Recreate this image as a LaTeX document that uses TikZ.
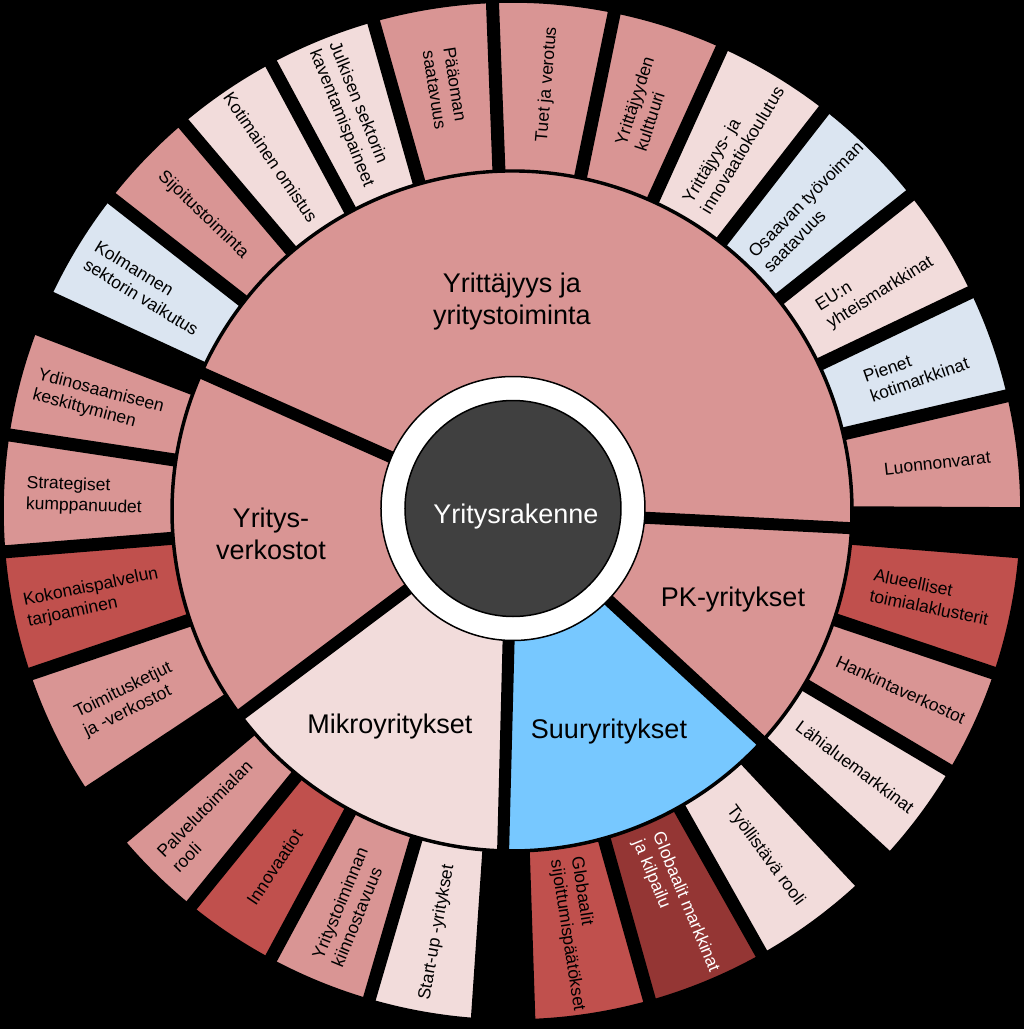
\documentclass[tikz,border=0pt]{standalone}
\usepackage{fontspec}
\setmainfont{Liberation Sans}

\definecolor{midpink}{HTML}{D99594}
\definecolor{lightpink}{HTML}{F2DCDB}
\definecolor{lightblue}{HTML}{DBE5F1}
\definecolor{brickred}{HTML}{C0504D}
\definecolor{darkred}{HTML}{943634}
\definecolor{skyblue}{RGB}{119,200,255}
\definecolor{coregrey}{HTML}{404040}

% ring piece: colour, from angle, to angle, inner radius, outer radius
\newcommand{\ringpart}[5]{%
  \filldraw[seg, fill=#1] (#2:#4) arc[start angle=#2, end angle=#3, radius=#4]
    -- (#3:#5) arc[start angle=#3, end angle=#2, radius=#5] -- cycle;}

\begin{document}
\begin{tikzpicture}[
    x=1pt, y=1pt,
    seg/.style={draw=black, line width=1.5},
    gap/.style={draw=black, line width=13},
    gapin/.style={draw=black, line width=12},
    lbl/.style={align=left, font=\fontsize{17.5}{21}\selectfont},
    biglbl/.style={align=center, font=\fontsize{27}{32}\selectfont}
]

% Background
\useasboundingbox (-512,-518) rectangle (512,511);
\fill[black] (-512,-518) rectangle (512,511);

% Outer ring
\ringpart{midpink}{-0.3}{13.1}{341}{509}
\ringpart{lightblue}{13.1}{25.5}{341}{509}
\ringpart{lightpink}{25.5}{38.4}{341}{509}
\ringpart{lightblue}{38.4}{52.1}{341}{509}
\ringpart{lightpink}{52.1}{65.6}{341}{509}
\ringpart{midpink}{65.6}{78.4}{341}{509}
\ringpart{midpink}{78.4}{92.2}{341}{509}
\ringpart{midpink}{92.2}{105.8}{341}{509}
\ringpart{lightpink}{105.8}{118.3}{341}{509}
\ringpart{lightpink}{118.3}{130.3}{341}{509}
\ringpart{midpink}{130.3}{142.0}{341}{509}
\ringpart{lightblue}{142.0}{155.2}{341}{509}

\ringpart{midpink}{159.0}{171.4}{341}{509}
\ringpart{midpink}{171.4}{184.6}{341}{509}
\ringpart{brickred}{184.6}{198.7}{341}{509}
\ringpart{midpink}{198.7}{213.6}{341}{509}

\ringpart{midpink}{220.0}{230.9}{341}{509}
\ringpart{brickred}{230.9}{241.7}{341}{509}
\ringpart{midpink}{241.7}{253.7}{341}{509}
\ringpart{lightpink}{253.7}{266.1}{341}{509}

\ringpart{brickred}{-88.1}{-74.3}{341}{509}
\ringpart{darkred}{-74.3}{-60.6}{341}{509}
\ringpart{lightpink}{-60.6}{-46.8}{341}{509}

\ringpart{lightpink}{-42.7}{-30.7}{341}{509}
\ringpart{midpink}{-30.7}{-18.6}{341}{509}
\ringpart{brickred}{-18.6}{-4.6}{341}{509}

\foreach \a in {-0.3,13.1,25.5,38.4,52.1,65.6,78.4,92.2,105.8,118.3,130.3,142.0,155.2,
                159.0,171.4,184.6,198.7,213.6,220.0,230.9,241.7,253.7,266.1,
                -88.1,-74.3,-60.6,-46.8,-42.7,-30.7,-18.6,-4.6}
  \draw[gap] (\a:341) -- (\a:530);

% Inner ring
\ringpart{midpink}{-2.9}{156.0}{115}{339}
\ringpart{midpink}{156.0}{216.9}{115}{339}
\ringpart{lightpink}{216.9}{268.5}{115}{339}
\ringpart{skyblue}{268.5}{317.3}{115}{339}
\ringpart{midpink}{317.3}{357.1}{115}{339}

\foreach \a in {-2.9,156.0,216.9,268.5,317.3}
  \draw[gapin] (\a:115) -- (\a:345);

% Core
\filldraw[seg, fill=white] (1,2.5) circle[radius=132];
\filldraw[seg, fill=coregrey] (1,2.5) circle[radius=108];
\node[biglbl, text=white] (core) at (4,-6) {Yritysrakenne};

% Inner labels
\node[biglbl] (yrittajyys) at (0,209) {Yrittäjyys ja\\yritystoiminta};
\node[biglbl] (verkostot) at (-241,-23) {Yritys-\\verkostot};
\node[biglbl] (mikro) at (-122,-216) {Mikroyritykset};
\node[biglbl] (suuri) at (97,-221) {Suuryritykset};
\node[biglbl] (pk) at (221,-89) {PK-yritykset};

% Outer labels
\node[lbl, rotate=6.4] (luonnon) at (6.4:428) {Luonnonvarat};
\node[lbl, rotate=19.3] (pienet) at (19.3:428) {Pienet\\kotimarkkinat};
\node[lbl, rotate=32.0] (eu) at (32.0:428) {EU:n\\yhteismarkkinat};
\node[lbl, rotate=45.3] (osaavan) at (45.3:428) {Osaavan työvoiman\\saatavuus};
\node[lbl, rotate=58.9] (koulutus) at (58.9:428) {Yrittäjyys- ja\\innovaatiokoulutus};
\node[lbl, rotate=72.0] (kulttuuri) at (72.0:428) {Yrittäjyyden\\kulttuuri};
\node[lbl, rotate=85.3] (tuet) at (85.3:428) {Tuet ja verotus};
\node[lbl, rotate=-81.0] (paaoma) at (99.0:428) {Pääoman\\saatavuus};
\node[lbl, rotate=-67.9] (julkinen) at (112.1:428) {Julkisen sektorin\\kaventamispaineet};
\node[lbl, rotate=-55.7] (kotimainen) at (124.3:428) {Kotimainen omistus};
\node[lbl, rotate=-43.8] (sijoitus) at (136.2:428) {Sijoitustoiminta};
\node[lbl, rotate=-31.4] (kolmas) at (148.6:428) {Kolmannen\\sektorin vaikutus};

\node[lbl, rotate=-14.8] (ydin) at (165.2:428) {Ydinosaamiseen\\keskittyminen};
\node[lbl, rotate=-2.0] (strategiset) at (178.0:428) {Strategiset\\kumppanuudet};
\node[lbl, rotate=11.7] (kokonais) at (191.7:428) {Kokonaispalvelun\\tarjoaminen};
\node[lbl, rotate=26.2] (toimitus) at (206.2:428) {Toimitusketjut\\ja -verkostot};

\node[lbl, rotate=45.5] (palvelu) at (225.5:428) {Palvelutoimialan\\rooli};
\node[lbl, rotate=56.3] (innovaatiot) at (236.3:428) {Innovaatiot};
\node[lbl, rotate=67.7] (kiinnostavuus) at (247.7:428) {Yritystoiminnan\\kiinnostavuus};
\node[lbl, rotate=79.9] (startup) at (259.9:428) {Start-up -yritykset};

\node[lbl, rotate=-81.2] (sijoittuminen) at (-81.2:428) {Globaalit\\sijoittumispäätökset};
\node[lbl, rotate=-67.5, text=white] (kilpailu) at (-67.5:428) {Globaalit markkinat\\ja kilpailu};
\node[lbl, rotate=-53.7] (tyollistava) at (-53.7:428) {Työllistävä rooli};

\node[lbl, rotate=-36.7] (lahialue) at (-36.7:428) {Lähialuemarkkinat};
\node[lbl, rotate=-24.7] (hankinta) at (-24.7:428) {Hankintaverkostot};
\node[lbl, rotate=-11.6] (klusterit) at (-11.6:428) {Alueelliset\\toimialaklusterit};

\end{tikzpicture}
\end{document}
